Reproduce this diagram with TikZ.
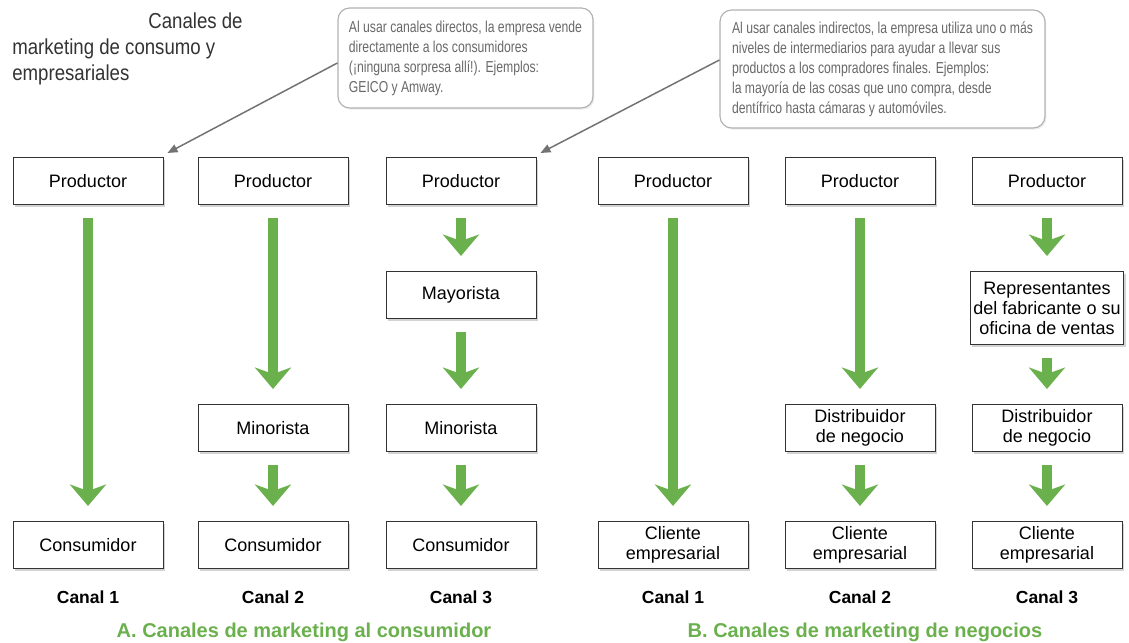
\documentclass[tikz,border=0pt]{standalone}
\usepackage{fontspec}
\setmainfont{Liberation Sans}
\newfontfamily\condfont[FakeStretch=0.86]{Liberation Sans}
\newfontfamily\notefont[FakeStretch=0.77]{Liberation Sans}
\usetikzlibrary{positioning,calc,arrows.meta,shadows}
\definecolor{flowgreen}{RGB}{106,176,76}
\definecolor{notegray}{RGB}{105,105,105}

\begin{document}
\begin{tikzpicture}[x=0.6pt,y=0.6pt,
    box/.style={draw=black!80,fill=white,line width=0.6pt,minimum width=90pt,minimum height=28.2pt,
        inner sep=2pt,align=center,font=\fontsize{10.8}{12}\selectfont,
        drop shadow={opacity=0.35,shadow xshift=1.2pt,shadow yshift=-1.8pt}},
    flow/.style={draw=flowgreen,line width=6.3pt,
        -{Stealth[length=13pt,width=22pt,inset=4pt,line width=0pt]},shorten <=8pt,shorten >=9pt},
    note/.style={draw=black!30,fill=white,rounded corners=7pt,line width=0.7pt,align=left,
        text=notegray,font=\notefont\fontsize{9.5}{12}\selectfont,
        drop shadow={opacity=0.15,shadow xshift=0.8pt,shadow yshift=-1pt}},
    pointer/.style={draw=black!55,line width=0.9pt,-{Triangle[length=6pt,width=5pt]}},
    canal/.style={font=\bfseries\fontsize{10.5}{12}\selectfont},
    part/.style={font=\bfseries\fontsize{12}{14}\selectfont,text=flowgreen}
    ]
\useasboundingbox (0,0) rectangle (1129,643);

% Heading (top left)
\node[anchor=north west,inner sep=0pt,align=left,text=black!80,
    font=\condfont\fontsize{13}{15.6}\selectfont] (T) at (12,631)
    {\hspace*{81.6pt}Canales de\\marketing de consumo y\\empresariales};

% Callouts
\node[note,minimum width=153pt,minimum height=60pt] (N1) at (465.5,585)
    {Al usar canales directos, la empresa vende\\directamente a los consumidores\\(¡ninguna sorpresa allí!). Ejemplos:\\GEICO y Amway.};
\node[note,minimum width=195pt,minimum height=70.8pt] (N2) at (882.5,574)
    {Al usar canales indirectos, la empresa utiliza uno o más\\niveles de intermediarios para ayudar a llevar sus\\productos a los compradores finales. Ejemplos:\\la mayoría de las cosas que uno compra, desde\\dentífrico hasta cámaras y automóviles.};

% A. Consumer channels
\node[box] (PA1) at (88,462) {Productor};
\node[box] (CA1) at (88,98) {Consumidor};
\draw[flow] (PA1)--(CA1);

\node[box] (PA2) at (273,462) {Productor};
\node[box] (MA2) at (273,215) {Minorista};
\node[box] (CA2) at (273,98) {Consumidor};
\draw[flow] (PA2)--(MA2);
\draw[flow] (MA2)--(CA2);

\node[box] (PA3) at (461,462) {Productor};
\node[box] (WA3) at (461,348) {Mayorista};
\node[box] (MA3) at (461,215) {Minorista};
\node[box] (CA3) at (461,98) {Consumidor};
\draw[flow] (PA3)--(WA3);
\draw[flow] (WA3)--(MA3);
\draw[flow] (MA3)--(CA3);

% B. Business channels
\node[box] (PB1) at (673,462) {Productor};
\node[box] (CB1) at (673,98) {Cliente\\empresarial};
\draw[flow] (PB1)--(CB1);

\node[box] (PB2) at (860,462) {Productor};
\node[box] (DB2) at (860,215) {Distribuidor\\de negocio};
\node[box] (CB2) at (860,98) {Cliente\\empresarial};
\draw[flow] (PB2)--(DB2);
\draw[flow] (DB2)--(CB2);

\node[box] (PB3) at (1047,462) {Productor};
\node[box,minimum height=43.8pt] (RB3) at (1047,335) {Representantes\\del fabricante o su\\oficina de ventas};
\node[box] (DB3) at (1047,215) {Distribuidor\\de negocio};
\node[box] (CB3) at (1047,98) {Cliente\\empresarial};
\draw[flow] (PB3)--(RB3);
\draw[flow] (RB3)--(DB3);
\draw[flow] (DB3)--(CB3);

% Callout pointers
\draw[pointer] ([yshift=-3pt]N1.west) -- ($(PA1.north east)+(4,4)$);
\draw[pointer] ([yshift=5.4pt]N2.west) -- ($(PA3.north east)+(4,4)$);

% Labels
\node[canal] (LA1) at (88,46) {Canal 1};
\node[canal] (LA2) at (273,46) {Canal 2};
\node[canal] (LA3) at (461,46) {Canal 3};
\node[canal] (LB1) at (673,46) {Canal 1};
\node[canal] (LB2) at (860,46) {Canal 2};
\node[canal] (LB3) at (1047,46) {Canal 3};

\node[part] (PA) at (304,11) {A. Canales de marketing al consumidor};
\node[part] (PB) at (865,11) {B. Canales de marketing de negocios};

\end{tikzpicture}
\end{document}
